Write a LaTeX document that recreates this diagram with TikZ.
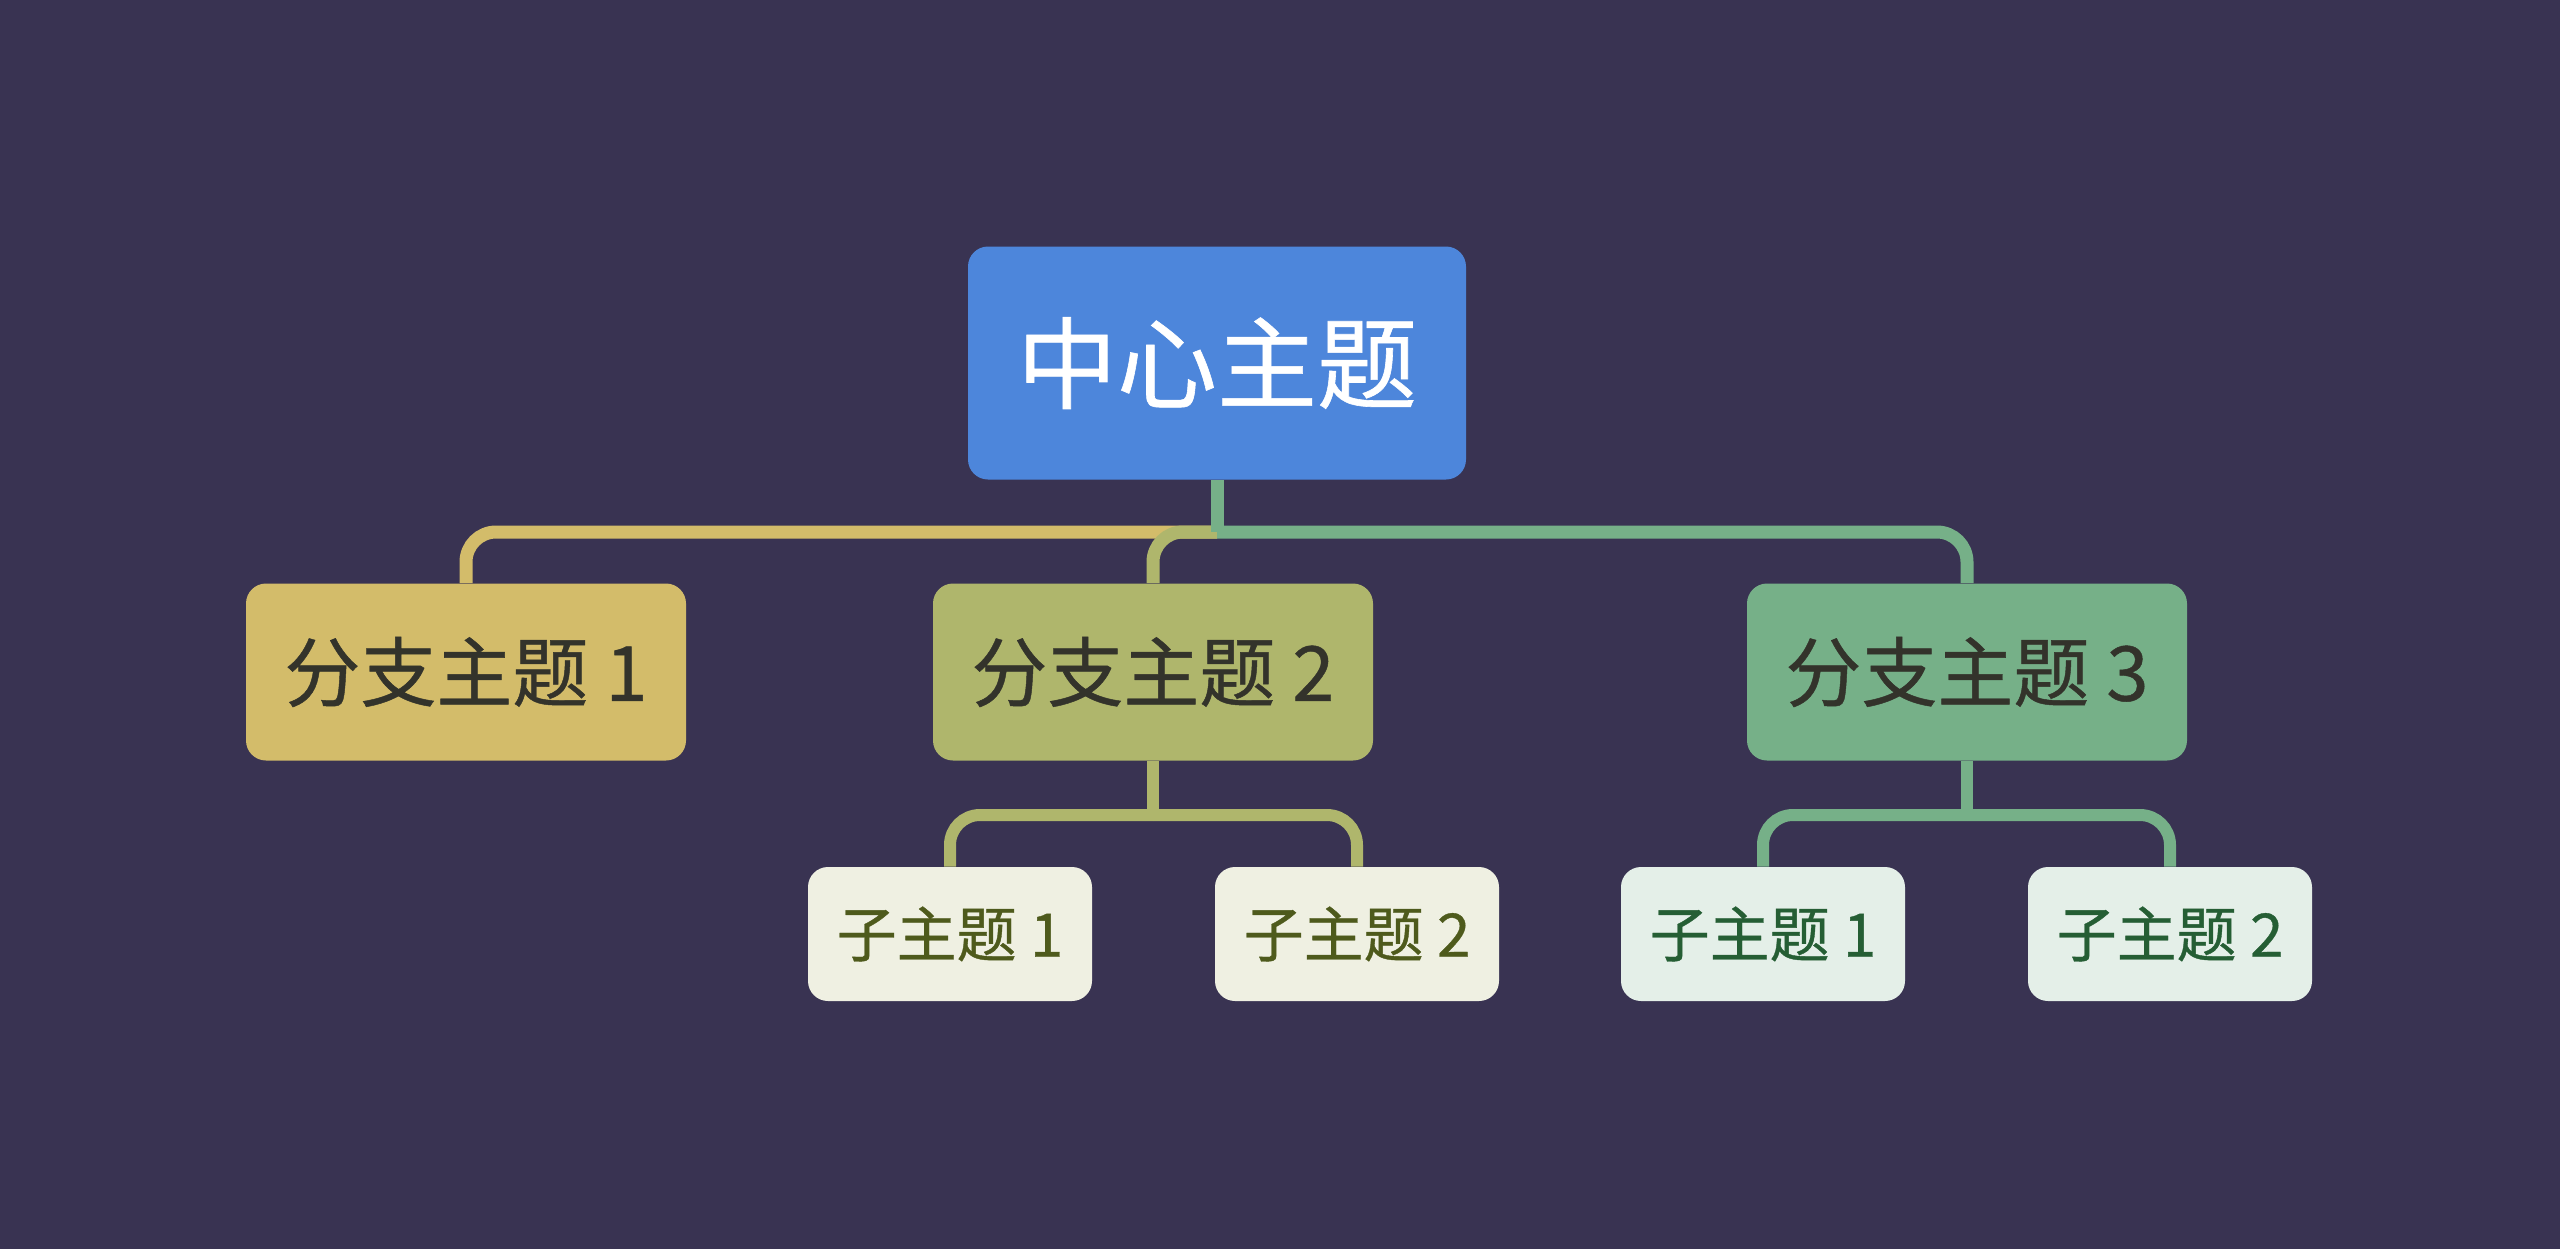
\documentclass[tikz,border=0pt]{standalone}
\usepackage{fontspec}
\setmainfont{Noto Sans CJK SC}[FakeBold=0.6]
\definecolor{bg}{HTML}{393352}
\definecolor{centreblue}{HTML}{4D86DB}
\definecolor{gold}{HTML}{D3BC6A}
\definecolor{olive}{HTML}{AFB66C}
\definecolor{sage}{HTML}{76B088}
\definecolor{olivepale}{HTML}{EFF0E2}
\definecolor{sagepale}{HTML}{E4EFE8}
\definecolor{olivetext}{HTML}{4E5A1C}
\definecolor{sagetext}{HTML}{255E34}
\definecolor{darktext}{HTML}{33332B}
\begin{document}
\begin{tikzpicture}[x=0.5pt,y=-0.5pt,
    topic/.style={rounded corners=10pt,inner sep=0pt,align=center},
    centre/.style={topic,fill=centreblue,text=white,minimum width=249pt,minimum height=116.5pt,font=\fontsize{50}{60}\selectfont},
    branch/.style={topic,text=darktext,minimum width=220pt,minimum height=88.5pt,font=\fontsize{38}{46}\selectfont},
    leaf/.style={topic,minimum width=142pt,minimum height=67pt,font=\fontsize{30}{36}\selectfont},
    link/.style={line width=6.5pt,rounded corners=15pt},
    sublink/.style={line width=6pt,rounded corners=15pt}]
    \fill[bg] (0,0) rectangle (2560,1249);
    % topics
    \node[centre] (centre) at (1217,363) {中心主题};
    \node[branch,fill=gold] (b1) at (466,672) {分支主题 1};
    \node[branch,fill=olive] (b2) at (1153,672) {分支主题 2};
    \node[branch,fill=sage] (b3) at (1967,672) {分支主题 3};
    \node[leaf,fill=olivepale,text=olivetext] (s21) at (950,934) {子主题 1};
    \node[leaf,fill=olivepale,text=olivetext] (s22) at (1357,934) {子主题 2};
    \node[leaf,fill=sagepale,text=sagetext] (s31) at (1763,934) {子主题 1};
    \node[leaf,fill=sagepale,text=sagetext] (s32) at (2170,934) {子主题 2};
    % connectors
    \coordinate (hub) at (1217,532);
    \coordinate (hub2) at (1153,815);
    \coordinate (hub3) at (1967,815);
    \draw[link,gold] (hub) -| (b1.north);
    \draw[link,olive] (hub) -| (b2.north);
    \draw[link,sage] (hub) -| (b3.north);
    \draw[link,sage] (centre.south) -- (hub);
    \draw[sublink,olive] (b2.south) -- (hub2);
    \draw[sublink,olive] (hub2) -| (s21.north);
    \draw[sublink,olive] (hub2) -| (s22.north);
    \draw[sublink,sage] (b3.south) -- (hub3);
    \draw[sublink,sage] (hub3) -| (s31.north);
    \draw[sublink,sage] (hub3) -| (s32.north);
\end{tikzpicture}
\end{document}
